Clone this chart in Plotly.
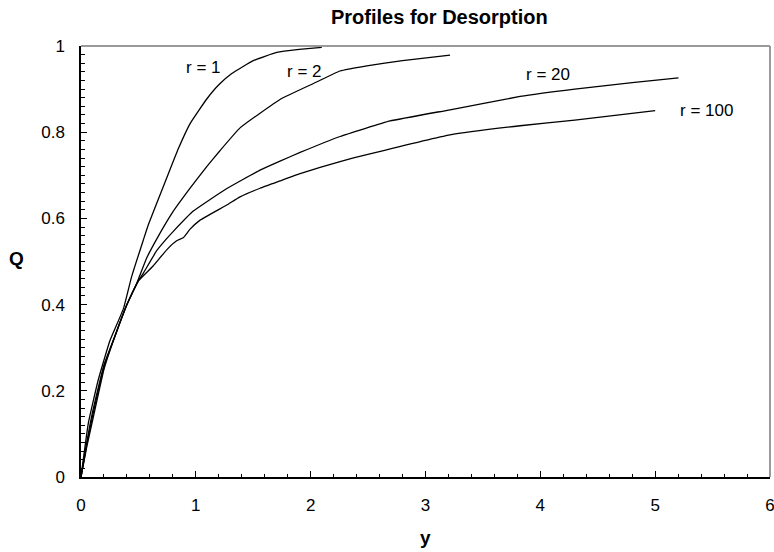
import plotly.graph_objects as go

# ---- data ----
y_r1 = [0, 0.064, 0.15, 0.25, 0.369, 0.441, 0.543, 0.587, 0.674, 0.76, 0.848, 0.95, 1.095, 1.2, 1.313, 1.5, 1.705, 1.9, 2.097]
q_r1 = [0, 0.125, 0.225, 0.315, 0.39, 0.465, 0.55, 0.586, 0.645, 0.703, 0.762, 0.82, 0.877, 0.91, 0.936, 0.966, 0.985, 0.992, 0.997]

y_r2 = [0, 0.05, 0.1, 0.2, 0.3, 0.4, 0.485, 0.572, 0.659, 0.8, 0.95, 1.095, 1.21, 1.385, 1.733, 2.024, 2.256, 2.489, 2.8, 3.214]
q_r2 = [0, 0.08, 0.15, 0.26, 0.33, 0.40, 0.449, 0.508, 0.552, 0.615, 0.67, 0.72, 0.757, 0.81, 0.876, 0.913, 0.942, 0.954, 0.966, 0.979]

y_r20 = [0, 0.05, 0.1, 0.2, 0.3, 0.4, 0.5, 0.543, 0.659, 0.746, 0.804, 0.978, 1.25, 1.559, 1.733, 1.908, 2.256, 2.692, 3.214, 3.824, 4.3, 4.8, 5.203]
q_r20 = [0, 0.075, 0.14, 0.255, 0.33, 0.40, 0.455, 0.473, 0.525, 0.553, 0.570, 0.617, 0.666, 0.712, 0.733, 0.753, 0.79, 0.826, 0.852, 0.883, 0.90, 0.915, 0.926]

y_r100 = [0, 0.05, 0.1, 0.2, 0.3, 0.4, 0.5, 0.63, 0.746, 0.833, 0.89, 0.95, 1.037, 1.269, 1.385, 1.559, 1.733, 1.908, 2.256, 2.489, 3.214, 3.824, 4.3, 5.0]
q_r100 = [0, 0.07, 0.13, 0.25, 0.33, 0.40, 0.455, 0.49, 0.527, 0.548, 0.555, 0.575, 0.596, 0.631, 0.650, 0.670, 0.687, 0.704, 0.732, 0.748, 0.794, 0.815, 0.828, 0.85]

labels = ["r = 1", "r = 2", "r = 20", "r = 100"]
label_x = [1.063, 1.95, 4.07, 5.45]
label_q = [0.949, 0.942, 0.933, 0.851]

x_ticks = [0, 1, 2, 3, 4, 5, 6]
q_ticks = [0, 0.2, 0.4, 0.6, 0.8, 1]

FONT = "Liberation Sans, Arial, sans-serif"

fig = go.Figure()
for xs, qs in [(y_r1, q_r1), (y_r2, q_r2), (y_r20, q_r20), (y_r100, q_r100)]:
    fig.add_trace(go.Scatter(x=xs, y=qs, mode="lines",
                             line=dict(color="black", width=1.3, shape="spline", smoothing=0.35),
                             showlegend=False, hoverinfo="skip"))

for t, lx, lq in zip(labels, label_x, label_q):
    fig.add_annotation(x=lx, y=lq, xref="x", yref="y", text=t, showarrow=False,
                       xanchor="center", yanchor="middle",
                       font=dict(family=FONT, size=17, color="black"))

# frame (top/right gray)
fig.add_shape(type="line", xref="paper", yref="paper", x0=0, x1=1, y0=1, y1=1,
              line=dict(color="#9a9a9a", width=2))
fig.add_shape(type="line", xref="paper", yref="paper", x0=1, x1=1, y0=0, y1=1,
              line=dict(color="#9a9a9a", width=2))

fig.add_annotation(x=0.521, y=1.067, xref="paper", yref="paper", text="<b>Profiles for Desorption</b>",
                   showarrow=False, xanchor="center", yanchor="middle",
                   font=dict(family=FONT, size=20, color="black"))
fig.add_annotation(x=0.5, y=-0.1415, xref="paper", yref="paper", text="<b>y</b>",
                   showarrow=False, xanchor="center", yanchor="middle",
                   font=dict(family=FONT, size=19, color="black"))
fig.add_annotation(x=(16 - 81) / 689, y=0.508, xref="paper", yref="paper", text="<b>Q</b>",
                   showarrow=False, xanchor="center", yanchor="middle",
                   font=dict(family=FONT, size=19, color="black"))

fig.update_layout(
    width=774, height=552,
    margin=dict(l=81, r=4, t=46, b=75, autoexpand=False),
    paper_bgcolor="white", plot_bgcolor="white",
    font=dict(family=FONT, size=17, color="black"),
    xaxis=dict(range=[0, 6], tickvals=x_ticks, ticktext=[str(v) for v in x_ticks],
               automargin=False,
               showgrid=False, zeroline=False, showline=True, linecolor="black", linewidth=1.5,
               ticks="inside", ticklen=6, tickwidth=1.2, tickcolor="black",
               ticklabelstandoff=12, ticklabeloverflow="allow", tickfont=dict(size=17),
               minor=dict(dtick=0.2, tick0=0, ticks="inside", ticklen=3, tickwidth=1, tickcolor="black", showgrid=False)),
    yaxis=dict(range=[0, 1], tickvals=q_ticks, ticktext=["0", "0.2", "0.4", "0.6", "0.8", "1"],
               automargin=False,
               showgrid=False, zeroline=False, showline=True, linecolor="black", linewidth=1.5,
               ticks="inside", ticklen=6, tickwidth=1.2, tickcolor="black",
               ticklabelstandoff=11, ticklabeloverflow="allow", tickfont=dict(size=17),
               minor=dict(dtick=0.02, tick0=0, ticks="inside", ticklen=4, tickwidth=1, tickcolor="black", showgrid=False)),
)

fig.write_html("out.html")
